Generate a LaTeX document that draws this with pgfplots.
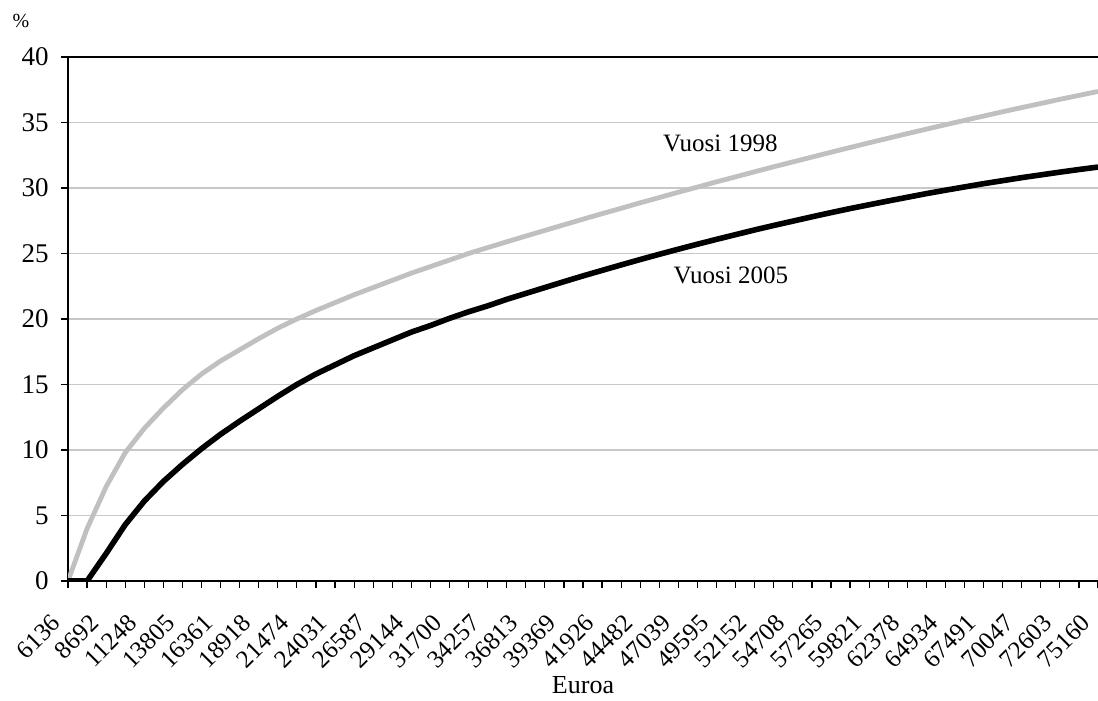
\documentclass[border=0pt]{standalone}
\usepackage{pgfplots}
\pgfplotsset{compat=1.18}
\usepackage{pgfplotstable}
\usepackage{fontspec}
\setmainfont{Liberation Serif}

\definecolor{lightline}{RGB}{192,192,192}
\definecolor{gridgray}{RGB}{200,200,200}

% Average rate (%) by income step; i = position of the income step
\pgfplotstableread{
i  g98    b05
0  0      0
1  4.0    0
2  7.2    2.1
3  9.8    4.3
4  11.65  6.1
5  13.2   7.6
6  14.6   8.9
7  15.8   10.1
8  16.8   11.2
9  17.65  12.2
10 18.5   13.15
11 19.3   14.1
12 20.0   15.0
13 20.65  15.8
14 21.25  16.5
15 21.85  17.2
16 22.4   17.8
17 22.95  18.4
18 23.5   19.0
19 24.0   19.5
20 24.5   20.05
21 25.0   20.55
22 25.45  21.0
23 25.89  21.5
24 26.33  21.95
25 26.76  22.4
26 27.19  22.85
27 27.62  23.29
28 28.04  23.71
29 28.45  24.13
30 28.87  24.54
31 29.27  24.94
32 29.68  25.33
33 30.07  25.71
34 30.47  26.08
35 30.85  26.44
36 31.24  26.80
37 31.62  27.14
38 31.99  27.47
39 32.36  27.80
40 32.73  28.12
41 33.09  28.43
42 33.45  28.72
43 33.80  29.01
44 34.15  29.29
45 34.49  29.57
46 34.83  29.83
47 35.16  30.08
48 35.49  30.33
49 35.82  30.56
50 36.14  30.79
51 36.45  31.00
52 36.77  31.21
53 37.07  31.41
54 37.37  31.60
}\rates

\begin{document}
\begin{tikzpicture}
\begin{axis}[
  scale only axis,
  width=515pt, height=262pt,
  xmin=0, xmax=54, ymin=0, ymax=40,
  axis x line*=bottom, axis y line*=left,
  axis line style={black, line width=1pt},
  xtick={0,2,...,54},
  minor xtick={1,3,...,53},
  xticklabels={6136,8692,11248,13805,16361,18918,21474,24031,26587,29144,31700,34257,36813,39369,41926,44482,47039,49595,52152,54708,57265,59821,62378,64934,67491,70047,72603,75160},
  ytick={0,5,...,40},
  tick align=outside,
  major tick length=3.5pt, minor tick length=3.5pt,
  every tick/.style={black, line width=0.6pt},
  ymajorgrids,
  grid style={gridgray, line width=0.6pt},
  /pgf/number format/assume math mode=true,
  yticklabel style={font=\fontsize{13.5}{15}\selectfont, inner sep=1pt, xshift=-5pt},
  xticklabel style={font=\fontsize{12.5}{15}\selectfont, xshift=-9pt, yshift=-11pt, rotate=45, anchor=north east, inner sep=1pt},
]
\addplot[lightline, line width=2.4pt] table[x=i, y=g98] {\rates};
\addplot[black, line width=2.8pt] table[x=i, y=b05] {\rates};
\draw[black, line width=1pt] (rel axis cs:0,1) -- (rel axis cs:1,1);
\node[font=\fontsize{12.5}{14}\selectfont] at (axis cs:34.2,33.4) {Vuosi 1998};
\node[font=\fontsize{12.5}{14}\selectfont] at (axis cs:34.75,23.3) {Vuosi 2005};
\end{axis}
\node[font=\fontsize{10}{12}\selectfont] at ([xshift=-23.5pt,yshift=18pt]current axis.north west) {\%};
\node[font=\fontsize{13}{15}\selectfont] at ([yshift=-52pt]current axis.south) {Euroa};
\pgfresetboundingbox
\useasboundingbox ([xshift=-34pt,yshift=-59.5pt]current axis.south west) rectangle ([yshift=28.5pt]current axis.north east);
\end{tikzpicture}
\end{document}
